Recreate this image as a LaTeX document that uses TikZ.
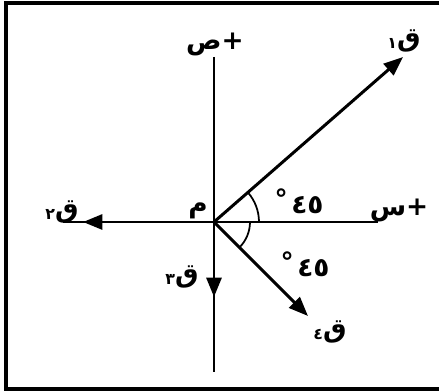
\documentclass[tikz,border=0pt]{standalone}
\usepackage{fontspec}
\newfontfamily\arabicfont[Script=Arabic]{DejaVu Sans}
\TeXXeTstate=1
\usetikzlibrary{arrows.meta}

\begin{document}
\begin{tikzpicture}[x=0.02cm, y=-0.02cm,
  axis/.style={line width=1pt},
  vec/.style={line width=1.7pt, -{Triangle[length=11pt,width=8.5pt]}},
  lbl/.style={font=\arabicfont\bfseries\fontsize{15}{17}\selectfont, inner sep=0pt}]
  \useasboundingbox (0,0) rectangle (440,391);

  % Frame
  \draw[line width=1.8pt] (439,3) -- (6,3) -- (6,389) -- (439,389);

  % Axes
  \coordinate (O) at (214,222);
  \coordinate (xl) at (63,222);
  \coordinate (xr) at (378,222);
  \coordinate (yt) at (214,57);
  \coordinate (yb) at (214,372);
  \draw[axis] (xl) -- (xr);
  \draw[axis] (yt) -- (yb);

  % Forces
  \coordinate (q1) at (403,57);
  \coordinate (q2) at (83,222);
  \coordinate (q3) at (214,297);
  \coordinate (q4) at (308,316);
  \draw[vec] (O) -- (q1);
  \draw[vec] (O) -- (q2);
  \draw[vec] (O) -- (q3);
  \draw[vec] (O) -- (q4);

  % Angles
  \draw[axis] (O) ++(0:0.9cm) arc[start angle=0, end angle=41, radius=0.9cm];
  \draw[axis] (O) ++(0:0.72cm) arc[start angle=0, end angle=-45, radius=0.72cm];

  % Labels
  \node[lbl] (ly) at (215,44) {\beginR\mbox{+}ص\endR};
  \node[lbl] (lx) at (399,210) {\beginR\mbox{+}س\endR};
  \node[lbl] (lo) at (198,211) {م};
  \node[lbl] (l1) at (404,41) {\beginR ق\raisebox{-1pt}{\small ١}\endR};
  \node[lbl] (l2) at (62,212) {\beginR ق\raisebox{-1pt}{\small ٢}\endR};
  \node[lbl] (l3) at (182,277) {\beginR ق\raisebox{-1pt}{\small ٣}\endR};
  \node[lbl] (l4) at (330,332) {\beginR ق\raisebox{-1pt}{\small ٤}\endR};
  \node[lbl] (a1) at (299,201) {\beginR\beginL ٤٥\endL\kern2pt\raisebox{3pt}{°}\endR};
  \node[lbl] (a2) at (305,264) {\beginR\beginL ٤٥\endL\kern2pt\raisebox{3pt}{°}\endR};
\end{tikzpicture}
\end{document}
